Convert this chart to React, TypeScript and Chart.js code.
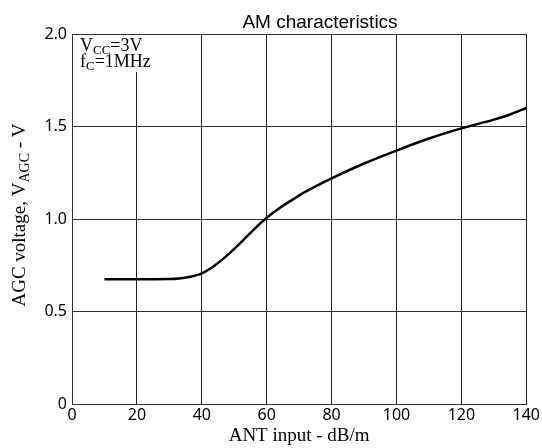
import React, { useEffect, useRef } from "react";
import { Chart, registerables } from "chart.js";

Chart.register(...registerables);

const inputDb = [10, 20, 30, 33, 36, 40, 44, 48, 52, 56, 60, 64, 68, 72, 80, 90, 100, 110, 120, 130, 135, 140];
const agcVolts = [0.675, 0.675, 0.676, 0.679, 0.686, 0.706, 0.749, 0.806, 0.872, 0.943, 1.007, 1.06, 1.105, 1.148, 1.22, 1.3, 1.37, 1.435, 1.49, 1.537, 1.565, 1.6];
const xTicks = [0, 20, 40, 60, 80, 100, 120, 140];
const yTicks = [0, 0.5, 1.0, 1.5, 2.0];

const chartTitle = "AM characteristics";
const xTitle = "ANT input - dB/m";

type Run = { text: string; font: string; dy: number };

function drawRuns(ctx: CanvasRenderingContext2D, runs: Run[], x: number, y: number, align: "left" | "center") {
  let total = 0;
  for (const r of runs) {
    ctx.font = r.font;
    total += ctx.measureText(r.text).width;
  }
  let cx = align === "center" ? x - total / 2 : x;
  ctx.textAlign = "left";
  ctx.textBaseline = "alphabetic";
  for (const r of runs) {
    ctx.font = r.font;
    ctx.fillText(r.text, cx, y + r.dy);
    cx += ctx.measureText(r.text).width;
  }
}

const SERIF = '"Liberation Serif", "Times New Roman", serif';

const textPlugin = {
  id: "textPlugin",
  beforeDatasetsDraw(chart: any) {
    const ctx: CanvasRenderingContext2D = chart.ctx;
    const area = chart.chartArea;
    ctx.save();
    ctx.fillStyle = "#ffffff";
    ctx.fillRect(area.left + 1, area.top + 1, 86, 37);
    ctx.restore();
  },
  afterDraw(chart: any) {
    const ctx: CanvasRenderingContext2D = chart.ctx;
    const area = chart.chartArea;
    ctx.save();
    ctx.fillStyle = "#000000";
    // title
    ctx.font = '19px "Liberation Sans", Arial, sans-serif';
    ctx.textAlign = "center";
    ctx.textBaseline = "alphabetic";
    ctx.fillText(chartTitle, 320, 28);
    // x axis title
    ctx.font = `19px ${SERIF}`;
    ctx.fillText(xTitle, (area.left + area.right) / 2, 441);
    // y axis title
    ctx.save();
    ctx.translate(25, 215);
    ctx.rotate(-Math.PI / 2);
    drawRuns(
      ctx,
      [
        { text: "AGC voltage, V", font: `19px ${SERIF}`, dy: 0 },
        { text: "AGC", font: `14px ${SERIF}`, dy: 4 },
        { text: " - V", font: `19px ${SERIF}`, dy: 0 },
      ],
      0,
      0,
      "center"
    );
    ctx.restore();
    // annotation
    drawRuns(
      ctx,
      [
        { text: "V", font: `18px ${SERIF}`, dy: 0 },
        { text: "CC", font: `13px ${SERIF}`, dy: 3 },
        { text: "=3V", font: `18px ${SERIF}`, dy: 0 },
      ],
      80,
      51,
      "left"
    );
    drawRuns(
      ctx,
      [
        { text: "f", font: `18px ${SERIF}`, dy: 0 },
        { text: "C", font: `13px ${SERIF}`, dy: 3 },
        { text: "=1MHz", font: `18px ${SERIF}`, dy: 0 },
      ],
      80,
      67,
      "left"
    );
    ctx.restore();
  },
};

export default function App() {
  const canvasRef = useRef<HTMLCanvasElement | null>(null);

  useEffect(() => {
    if (!canvasRef.current) return;
    const points = inputDb.map((x, i) => ({ x, y: agcVolts[i] }));
    const chart = new Chart(canvasRef.current, {
      type: "line",
      data: {
        datasets: [
          {
            data: points,
            borderColor: "#000000",
            borderWidth: 2.5,
            pointRadius: 0,
            cubicInterpolationMode: "monotone",
            fill: false,
          },
        ],
      },
      options: {
        animation: false,
        responsive: false,
        devicePixelRatio: 1,
        layout: { padding: { left: 0, right: 13, top: 34, bottom: 0 } },
        plugins: {
          legend: { display: false },
          tooltip: { enabled: false },
          title: { display: false },
        },
        scales: {
          x: {
            type: "linear",
            min: 0,
            max: 140,
            afterBuildTicks: (scale: any) => {
              scale.ticks = xTicks.map((v) => ({ value: v }));
            },
            ticks: {
              color: "#000",
              font: { family: '"Noto Sans", sans-serif', size: 16 },
              padding: 2,
              maxRotation: 0,
              autoSkip: false,
            },
            grid: { color: "#222", lineWidth: 1, drawTicks: false },
            border: { color: "#333", width: 1 },
            afterFit: (scale: any) => {
              scale.height = 44;
            },
          },
          y: {
            type: "linear",
            min: 0,
            max: 2,
            afterBuildTicks: (scale: any) => {
              scale.ticks = yTicks.map((v) => ({ value: v }));
            },
            ticks: {
              color: "#000",
              font: { family: '"Noto Sans", sans-serif', size: 16 },
              padding: 5,
              autoSkip: false,
              callback: (v: any) => (Number(v) === 0 ? "0" : Number(v).toFixed(1)),
            },
            grid: { color: "#333", lineWidth: 1, drawTicks: false },
            border: { color: "#333", width: 1 },
            afterFit: (scale: any) => {
              scale.width = 72;
            },
          },
        },
      },
      plugins: [textPlugin],
    } as any);
    return () => chart.destroy();
  }, []);

  return (
    <div style={{ position: "fixed", left: 0, top: 0, width: 542, height: 448, background: "#fff" }}>
      <canvas ref={canvasRef} width={542} height={448} style={{ display: "block" }} />
    </div>
  );
}
